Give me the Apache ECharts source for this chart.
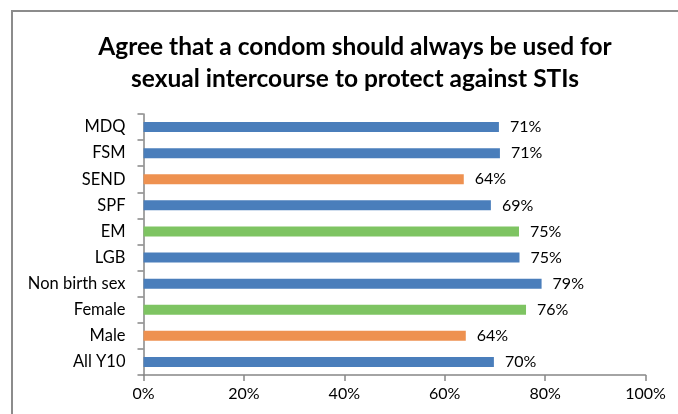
<!DOCTYPE html>
<html>
<head>
<meta charset="utf-8">
<script src="https://cdn.jsdelivr.net/npm/echarts@6/dist/echarts.min.js"></script>
<style>
html,body{margin:0;padding:0;background:#fff;}
#chart{width:678px;height:414px;}
</style>
</head>
<body>
<div id="chart"></div>
<script>
const titleText = "Agree that a condom should always be used for\nsexual intercourse to protect against STIs";
const categories = ["MDQ","FSM","SEND","SPF","EM","LGB","Non birth sex","Female","Male","All Y10"];
const values = [70.8, 71.0, 63.8, 69.2, 74.8, 74.9, 79.3, 76.2, 64.2, 69.8];
const xTicks = [0, 20, 40, 60, 80, 100];

const BLUE = "#4A7EBB", ORANGE = "#EE9150", GREEN = "#7EC462";
const barColors = [BLUE, BLUE, ORANGE, BLUE, GREEN, BLUE, BLUE, GREEN, ORANGE, BLUE];

const FONT = "Lato";
const chart = echarts.init(document.getElementById('chart'), null, {renderer:'canvas'});
chart.setOption({
  animation:false,
  backgroundColor:'#ffffff',
  title:{
    text:titleText,
    left:350, textAlign:'center', top:26,
    textStyle:{fontFamily:FONT, fontWeight:'bold', fontSize:24.5, lineHeight:32, color:'#000'}
  },
  graphic:[{
    type:'rect', shape:{x:12, y:11, width:700, height:440},
    style:{fill:'none', stroke:'#8c8c8c', lineWidth:2}, silent:true
  }],
  grid:{left:143.5, right:32.5, top:114, bottom:39},
  xAxis:{
    type:'value', min:xTicks[0], max:xTicks[xTicks.length-1], interval:20,
    axisLine:{show:true, lineStyle:{color:'#868686', width:1.5}},
    axisTick:{show:true, length:6, lineStyle:{color:'#868686', width:1.5}},
    splitLine:{show:false},
    axisLabel:{formatter:'{value}%', fontFamily:FONT, fontSize:16, color:'#000', margin:11}
  },
  yAxis:{
    type:'category', data:categories, inverse:true,
    axisLine:{show:true, lineStyle:{color:'#868686', width:1.5}},
    axisTick:{show:true, length:6, lineStyle:{color:'#868686', width:1.5}},
    axisLabel:{fontFamily:FONT, fontSize:16.5, color:'#000', margin:18}
  },
  series:[{
    type:'bar', barWidth:10,
    data:values.map((v,i)=>({value:v, itemStyle:{color:barColors[i]}})),
    label:{show:true, position:'right', distance:11, fontFamily:FONT, fontSize:16, color:'#000',
      formatter:p=>Math.round(p.value)+'%'}
  }]
});
</script>
</body>
</html>
